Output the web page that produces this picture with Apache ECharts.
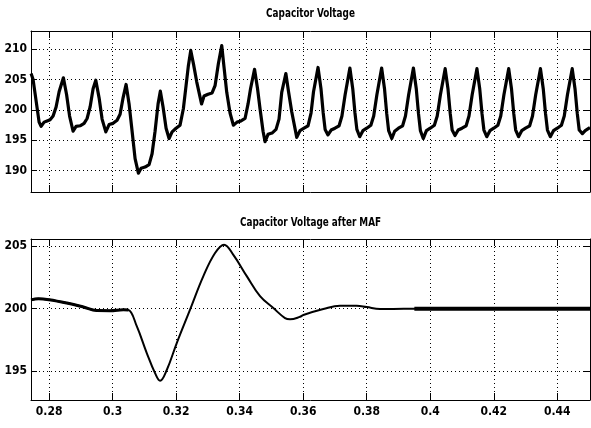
<!DOCTYPE html>
<html>
<head>
<meta charset="utf-8">
<script src="https://cdn.jsdelivr.net/npm/echarts@6/dist/echarts.min.js"></script>
<style>
  html, body { margin: 0; padding: 0; background: #fff; }
  #chart { width: 591px; height: 428px; }
</style>
</head>
<body>
<div id="chart"></div>
<script>
// Panel titles
const titles = ['Capacitor Voltage', 'Capacitor Voltage after MAF'];

// Time axis (s) and value axis ranges
const timeRange = [0.2743, 0.4503];
const rawRange = [186.5, 213.0];
const mafRange = [192.7, 205.57];

// Raw DC-link capacitor voltage (V) against time (s)
const capTime = [
  0.27433, 0.27496, 0.27591, 0.27685, 0.27748, 0.27843, 0.27937, 0.28031, 0.28126, 0.28220, 0.28315,
  0.28450, 0.28551, 0.28645, 0.28755, 0.28850, 0.28976, 0.29102, 0.29196, 0.29291, 0.29385,
  0.29470, 0.29574, 0.29668, 0.29785, 0.29889, 0.30014, 0.30140, 0.30235, 0.30329,
  0.30424, 0.30518, 0.30613, 0.30707, 0.30811, 0.30896, 0.31022, 0.31148, 0.31242, 0.31336, 0.31431,
  0.31503, 0.31588, 0.31683, 0.31777, 0.31872, 0.31997, 0.32123, 0.32227, 0.32312, 0.32385,
  0.32460, 0.32548, 0.32649, 0.32800, 0.32879, 0.33005, 0.33131, 0.33225, 0.33329,
  0.33436, 0.33508, 0.33593, 0.33697, 0.33801, 0.33918, 0.34043, 0.34169, 0.34264, 0.34342,
  0.34468, 0.34563, 0.34641, 0.34736, 0.34799, 0.34893, 0.35019, 0.35145, 0.35239, 0.35324,
  0.35454, 0.35539, 0.35639, 0.35797, 0.35900, 0.36026, 0.36152, 0.36247, 0.36325,
  0.36467, 0.3656, 0.3663, 0.3669, 0.3678, 0.3688, 0.3700, 0.3713, 0.3722, 0.3732,
  0.3747, 0.3756, 0.3763, 0.3769, 0.3778, 0.3788, 0.3800, 0.3813, 0.3822, 0.3832,
  0.3847, 0.3856, 0.3863, 0.3869, 0.3879, 0.3888, 0.3900, 0.3913, 0.3922, 0.3932,
  0.3947, 0.3956, 0.3963, 0.3969, 0.3978, 0.3988, 0.4000, 0.4013, 0.4022, 0.4032,
  0.4047, 0.4056, 0.4063, 0.4069, 0.4078, 0.4088, 0.4100, 0.4113, 0.4122, 0.4132,
  0.4147, 0.4156, 0.4163, 0.4169, 0.4178, 0.4188, 0.4200, 0.4213, 0.4222, 0.4232,
  0.4247, 0.4256, 0.4263, 0.4269, 0.4278, 0.4288, 0.4300, 0.4313, 0.4322, 0.4332,
  0.4347, 0.4356, 0.4363, 0.4369, 0.4378, 0.4388, 0.4400, 0.4413, 0.4422, 0.4432,
  0.4447, 0.4456, 0.4463, 0.4469, 0.4479, 0.4488, 0.4500, 0.4503
];
const capVolt = [
  206.0, 205.0, 201.5, 198.0, 197.3, 198.0, 198.2, 198.4, 199.0, 200.5, 203.0,
  205.3, 202.5, 199.0, 196.5, 197.3, 197.4, 197.8, 198.6, 200.5, 203.5,
  204.9, 202.0, 198.5, 196.4, 197.6, 197.8, 198.3, 199.3, 202.0,
  204.2, 201.0, 196.5, 192.0, 189.6, 190.4, 190.6, 191.0, 192.8, 196.5, 201.0,
  203.1, 200.5, 197.0, 195.3, 196.4, 197.0, 197.5, 200.2, 204.0, 207.3,
  209.8, 207.5, 204.6, 201.0, 202.3, 202.6, 202.8, 204.0, 207.6,
  210.6, 207.0, 202.9, 199.5, 197.5, 198.0, 198.2, 198.6, 201.0, 203.5,
  206.7, 203.5, 200.2, 196.5, 194.8, 196.0, 196.2, 196.8, 198.5, 202.9,
  206.0, 203.0, 199.7, 195.5, 196.6, 197.0, 197.4, 199.5, 203.0,
  207.0, 203.5, 199.5, 196.8, 195.9, 196.7, 197.0, 197.4, 199.0, 202.5,
  206.9, 203.5, 199.5, 196.8, 195.6, 196.6, 197.0, 197.5, 199.0, 202.5,
  206.9, 203.5, 199.4, 196.6, 195.3, 196.5, 197.0, 197.4, 199.0, 202.5,
  206.9, 203.5, 199.4, 196.6, 195.3, 196.6, 197.0, 197.5, 199.0, 202.5,
  206.8, 203.4, 199.4, 196.7, 195.8, 196.7, 197.0, 197.4, 199.0, 202.5,
  206.8, 203.4, 199.4, 196.7, 195.6, 196.6, 197.0, 197.5, 199.0, 202.5,
  206.8, 203.4, 199.4, 196.7, 195.6, 196.6, 197.0, 197.4, 199.0, 202.5,
  206.8, 203.4, 199.4, 196.7, 195.6, 196.6, 197.0, 197.5, 199.0, 202.5,
  206.8, 203.4, 199.4, 196.7, 196.1, 196.6, 197.0, 197.1
];

// Capacitor voltage after the moving-average filter (V) against time (s)
const mafTime = [
  0.27433, 0.27663, 0.28000, 0.28557, 0.29080, 0.29501, 0.29920, 0.30339, 0.30496,
  0.30760, 0.31075, 0.31336, 0.31494, 0.31705, 0.32019, 0.32438, 0.32857, 0.33225,
  0.33508, 0.33801, 0.34223, 0.34641, 0.35060, 0.35428, 0.35586, 0.35900, 0.36004,
  0.36634, 0.37160, 0.37685, 0.38000, 0.38419, 0.38837, 0.39500, 0.40000, 0.42000,
  0.44000, 0.45030
];
const mafVolt = [
  200.7, 200.8, 200.72, 200.45, 200.13, 199.85, 199.84, 199.92, 199.9,
  198.6, 196.45, 194.85, 194.24, 195.1, 197.25, 199.92, 202.6, 204.45,
  205.12, 204.3, 202.6, 201.0, 200.05, 199.25, 199.15, 199.35, 199.5,
  199.97, 200.24, 200.24, 200.13, 199.98, 199.98, 200.0, 200.0, 200.0,
  200.0, 200.0
];

const FONT = '"DejaVu Sans Condensed", "DejaVu Sans", sans-serif';
const INK = '#000';

const capPoints = capTime.map((t, i) => [t, capVolt[i]]);
const mafPoints = mafTime.map((t, i) => [t, mafVolt[i]]);

const fmtTime = v => String(parseFloat(v.toFixed(3)));

function xAxisFor(gridIndex, position, withLabels) {
  return {
    type: 'value', gridIndex, position,
    min: timeRange[0], max: timeRange[1],
    splitNumber: 8, minInterval: 0.02, maxInterval: 0.02,
    axisLine: { show: true, onZero: false, lineStyle: { color: INK, width: 1 } },
    axisTick: { show: true, inside: true, length: 7, lineStyle: { color: INK } },
    axisLabel: {
      show: withLabels, showMinLabel: false, showMaxLabel: false,
      color: INK, fontFamily: FONT, fontSize: 12, fontWeight: 'bold', margin: 6,
      formatter: fmtTime
    },
    splitLine: {
      show: position === 'bottom',
      lineStyle: { color: INK, width: 1, type: [1, 3] }
    }
  };
}

function yAxisFor(gridIndex, position, range, withLabels) {
  return {
    type: 'value', gridIndex, position,
    min: range[0], max: range[1],
    splitNumber: 5, minInterval: 5, maxInterval: 5,
    axisLine: { show: true, onZero: false, lineStyle: { color: INK, width: 1 } },
    axisTick: { show: true, inside: true, length: 6, lineStyle: { color: INK } },
    axisLabel: {
      show: withLabels, showMinLabel: false, showMaxLabel: false,
      color: INK, fontFamily: FONT, fontSize: 12, fontWeight: 'bold', margin: 4
    },
    splitLine: {
      show: position === 'left',
      lineStyle: { color: INK, width: 1, type: [1, 3] }
    }
  };
}

function titleText(text, y, sx) {
  return {
    type: 'text', x: 310.5, y, scaleX: sx,
    style: { text, font: 'bold 12px ' + FONT, fill: INK, textAlign: 'center', textVerticalAlign: 'middle' }
  };
}

const chart = echarts.init(document.getElementById('chart'), null, { renderer: 'canvas' });

chart.setOption({
  backgroundColor: '#fff',
  animation: false,
  grid: [
    { left: 31, top: 31, right: 1, height: 161 },
    { left: 31, top: 239, right: 1, height: 161 }
  ],
  xAxis: [
    xAxisFor(0, 'bottom', false),
    xAxisFor(0, 'top', false),
    xAxisFor(1, 'bottom', true),
    xAxisFor(1, 'top', false)
  ],
  yAxis: [
    yAxisFor(0, 'left', rawRange, true),
    yAxisFor(0, 'right', rawRange, false),
    yAxisFor(1, 'left', mafRange, true),
    yAxisFor(1, 'right', mafRange, false)
  ],
  graphic: [
    titleText(titles[0], 14, 0.82),
    titleText(titles[1], 223, 0.82)
  ],
  series: [
    {
      type: 'line', xAxisIndex: 0, yAxisIndex: 0, data: capPoints,
      showSymbol: false, symbol: 'none',
      lineStyle: { color: INK, width: 3.2, join: 'round' }
    },
    {
      type: 'line', xAxisIndex: 2, yAxisIndex: 2, data: mafPoints,
      showSymbol: false, symbol: 'none', smooth: 0.4,
      lineStyle: { color: INK, width: 2 }
    },
    {
      // ripple band while the filter output is still settling
      type: 'line', xAxisIndex: 2, yAxisIndex: 2,
      data: mafPoints.filter(p => p[0] <= 0.3050),
      showSymbol: false, symbol: 'none', smooth: 0.4,
      lineStyle: { color: INK, width: 3 }
    },
    {
      // ripple band at steady state
      type: 'line', xAxisIndex: 2, yAxisIndex: 2,
      data: mafPoints.filter(p => p[0] >= 0.395),
      showSymbol: false, symbol: 'none',
      lineStyle: { color: INK, width: 4 }
    }
  ]
});
</script>
</body>
</html>
